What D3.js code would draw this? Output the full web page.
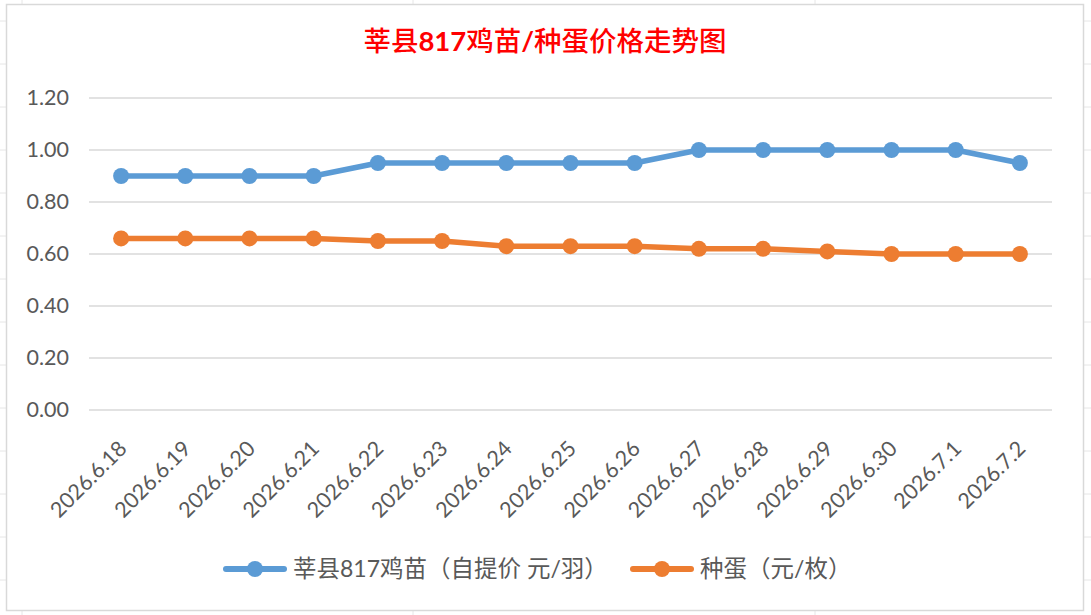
<!DOCTYPE html>
<html lang="zh">
<head>
<meta charset="utf-8">
<script src="https://d3js.org/d3.v7.min.js"></script>
<style>
  body { margin: 0; background: #fff; }
  svg { display: block; }
</style>
</head>
<body>
<svg width="1091" height="615"></svg>
<script>
// chart values
var dates = ["2026.6.18", "2026.6.19", "2026.6.20", "2026.6.21", "2026.6.22",
             "2026.6.23", "2026.6.24", "2026.6.25", "2026.6.26", "2026.6.27",
             "2026.6.28", "2026.6.29", "2026.6.30", "2026.7.1", "2026.7.2"];
var chickPrice = [0.90, 0.90, 0.90, 0.90, 0.95, 0.95, 0.95, 0.95, 0.95, 1.00, 1.00, 1.00, 1.00, 1.00, 0.95];
var eggPrice   = [0.66, 0.66, 0.66, 0.66, 0.65, 0.65, 0.63, 0.63, 0.63, 0.62, 0.62, 0.61, 0.60, 0.60, 0.60];
var yTicks = [0, 0.2, 0.4, 0.6, 0.8, 1.0, 1.2];
var seriesNames = ["莘县817鸡苗（自提价 元/羽）", "种蛋（元/枚）"];
var seriesColors = ["#5B9BD5", "#ED7D31"];
var title = "莘县817鸡苗/种蛋价格走势图";

var svg = d3.select("svg");
var latin = "Lato, 'Noto Sans', sans-serif";
var cjk = "'Noto Sans CJK SC', sans-serif";

// faint spreadsheet cells behind the chart
var cells = svg.append("g").attr("stroke", "#E6E6E6").attr("stroke-width", 1);
d3.range(21, 615, 43).forEach(function (yy) {
    cells.append("line").attr("x1", 0).attr("x2", 1091).attr("y1", yy).attr("y2", yy);
});
[22, 413, 815].forEach(function (xx) {
    cells.append("line").attr("x1", xx).attr("x2", xx).attr("y1", 0).attr("y2", 615);
});

// chart frame
svg.append("rect")
    .attr("x", 6.5).attr("y", 4.5)
    .attr("width", 1077).attr("height", 606)
    .attr("fill", "#fff").attr("stroke", "#D9D9D9").attr("stroke-width", 1.5);

// put ascii runs in one font, the rest in the cjk font
function mixedText(sel, str, latinSize, cjkSize, latinWeight) {
    var runs = str.match(/[\x20-\x7e]+|[^\x20-\x7e]+/g);
    runs.forEach(function (r) {
        var isLatin = /^[\x20-\x7e]+$/.test(r);
        sel.append("tspan")
            .attr("font-family", isLatin ? latin : cjk)
            .attr("font-size", isLatin ? latinSize : cjkSize)
            .attr("font-weight", isLatin ? (latinWeight || 400) : null)
            .text(r);
    });
}

var plotLeft = 89, plotRight = 1052, plotTop = 98, plotBottom = 410;

var x = d3.scaleBand().domain(dates).range([plotLeft, plotRight]);
var y = d3.scaleLinear().domain([0, 1.2]).range([plotBottom, plotTop]);
var cx = function (d) { return x(d) + x.bandwidth() / 2; };

// title
var t = svg.append("text")
    .attr("x", 545).attr("y", 51)
    .attr("text-anchor", "middle")
    .attr("fill", "#FF0000")
    .attr("font-weight", 500);
mixedText(t, title, 27.5, 27.5, 700);

// gridlines
svg.append("g")
    .selectAll("line")
    .data(yTicks)
    .join("line")
    .attr("x1", plotLeft).attr("x2", plotRight)
    .attr("y1", function (d) { return y(d); })
    .attr("y2", function (d) { return y(d); })
    .attr("stroke", "#D9D9D9")
    .attr("stroke-width", 1.5);

// y axis labels
var yAxis = svg.append("g")
    .attr("transform", "translate(" + (plotLeft - 17) + ",0)")
    .call(d3.axisLeft(y).tickValues(yTicks).tickFormat(d3.format(".2f")).tickSize(0));
yAxis.select(".domain").remove();
yAxis.selectAll("text")
    .attr("font-family", latin)
    .attr("font-size", 21.5)
    .attr("fill", "#595959")
    .attr("dx", 0);

// x axis labels, rotated
var xAxis = svg.append("g")
    .attr("transform", "translate(0," + plotBottom + ")")
    .call(d3.axisBottom(x).tickSize(0));
xAxis.select(".domain").remove();
xAxis.selectAll(".tick text")
    .attr("font-family", latin)
    .attr("font-size", 21.5)
    .attr("fill", "#595959")
    .attr("text-anchor", "end")
    .attr("y", 0).attr("dy", 0)
    .attr("transform", "translate(7,40) rotate(-45)");

// series
var series = [chickPrice, eggPrice];
var line = d3.line()
    .x(function (d, i) { return cx(dates[i]); })
    .y(function (d) { return y(d); });

series.forEach(function (vals, k) {
    var g = svg.append("g");
    g.append("path")
        .datum(vals)
        .attr("d", line)
        .attr("fill", "none")
        .attr("stroke", seriesColors[k])
        .attr("stroke-width", 5.5)
        .attr("stroke-linejoin", "round");
    g.selectAll("circle")
        .data(vals)
        .join("circle")
        .attr("cx", function (d, i) { return cx(dates[i]); })
        .attr("cy", function (d) { return y(d); })
        .attr("r", 8)
        .attr("fill", seriesColors[k]);
});

// legend
var legendX = [224, 631];
seriesNames.forEach(function (name, k) {
    var g = svg.append("g").attr("transform", "translate(" + legendX[k] + ",569)");
    g.append("line")
        .attr("x1", 2).attr("x2", 60)
        .attr("stroke", seriesColors[k])
        .attr("stroke-width", 6)
        .attr("stroke-linecap", "round");
    g.append("circle").attr("cx", 31).attr("r", 8).attr("fill", seriesColors[k]);
    var lt = g.append("text")
        .attr("x", 69).attr("y", 8)
        .attr("fill", "#595959");
    mixedText(lt, name, 23, 23.5);
});
</script>
</body>
</html>
